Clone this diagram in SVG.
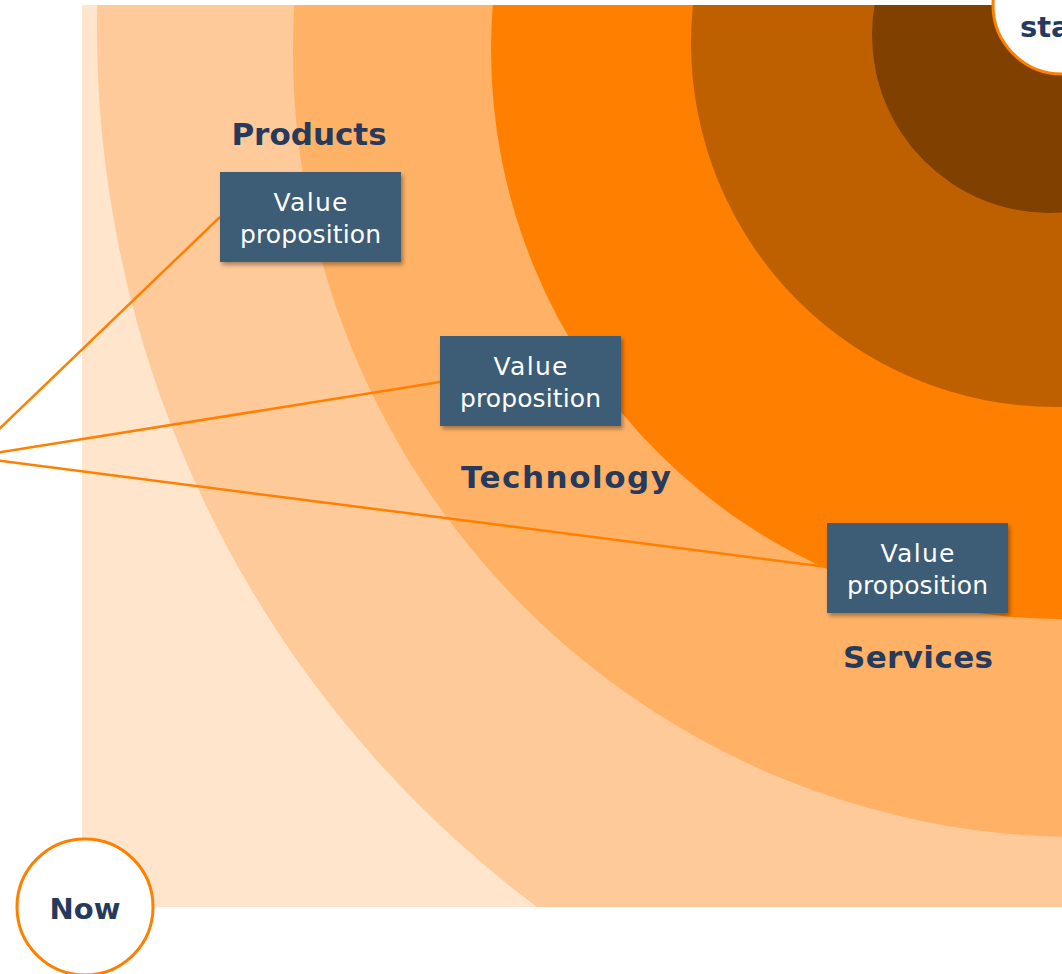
<svg xmlns="http://www.w3.org/2000/svg" width="1062" height="974" viewBox="0 0 1062 974">
  <style>
    .lbl { font-family: "DejaVu Sans", "Liberation Sans", sans-serif; font-weight: bold; font-size: 31px; fill: #253A5C; text-anchor: middle; }
    .vp { font-family: "DejaVu Sans", "Liberation Sans", sans-serif; font-size: 25px; fill: #FFFFFF; text-anchor: middle; }
    .box { fill: #3E5B74; filter: url(#shadow); }
    .conn { stroke: #FF8000; stroke-width: 2.5; fill: none; }
    .badge { fill: #FFFFFF; stroke: #FF8000; stroke-width: 3; }
    .badgetxt { font-family: "DejaVu Sans", "Liberation Sans", sans-serif; font-weight: bold; font-size: 29px; fill: #253A5C; text-anchor: middle; }
  </style>
  <defs>
    <clipPath id="area">
      <rect x="82" y="5" width="980" height="902"/>
    </clipPath>
    <filter id="shadow" x="-10%" y="-10%" width="130%" height="140%">
      <feDropShadow dx="2" dy="3" stdDeviation="2" flood-color="#000000" flood-opacity="0.35"/>
    </filter>
  </defs>
  <rect width="1062" height="974" fill="#FFFFFF"/>
  <g id="rings" clip-path="url(#area)">
    <rect x="82" y="5" width="980" height="902" fill="#FFE5CC"/>
    <circle cx="1193" cy="29" r="1096" fill="#FFCA99"/>
    <circle cx="1080" cy="50" r="787" fill="#FFB266"/>
    <circle cx="1060" cy="50" r="569" fill="#FF8000"/>
    <circle cx="1055" cy="43" r="364" fill="#BF6000"/>
    <circle cx="1050" cy="35" r="178" fill="#804000"/>
  </g>
  <g id="connectors">
    <line class="conn" x1="-30" y1="457" x2="220" y2="217"/>
    <line class="conn" x1="-30" y1="457" x2="440" y2="382"/>
    <line class="conn" x1="-30" y1="457" x2="827" y2="567"/>
  </g>
  <g id="products">
    <text class="lbl" x="309" y="145">Products</text>
    <rect class="box" x="220" y="172" width="181" height="90"/>
    <text class="vp" x="310.5" y="211" textLength="74">Value</text>
    <text class="vp" x="310.5" y="243" textLength="141">proposition</text>
  </g>
  <g id="technology">
    <rect class="box" x="440" y="336" width="181" height="90"/>
    <text class="vp" x="530.5" y="375" textLength="74">Value</text>
    <text class="vp" x="530.5" y="407" textLength="141">proposition</text>
    <text class="lbl" x="566" y="488" textLength="210">Technology</text>
  </g>
  <g id="services">
    <rect class="box" x="827" y="523" width="181" height="90"/>
    <text class="vp" x="917.5" y="562" textLength="74">Value</text>
    <text class="vp" x="917.5" y="594" textLength="141">proposition</text>
    <text class="lbl" x="918" y="668" textLength="150">Services</text>
  </g>
  <g id="now">
    <circle class="badge" cx="85" cy="907" r="68"/>
    <text class="badgetxt" x="85" y="919">Now</text>
  </g>
  <g id="future">
    <circle class="badge" cx="1062" cy="5" r="69"/>
    <text class="badgetxt" x="1062" y="37">state</text>
  </g>
</svg>
